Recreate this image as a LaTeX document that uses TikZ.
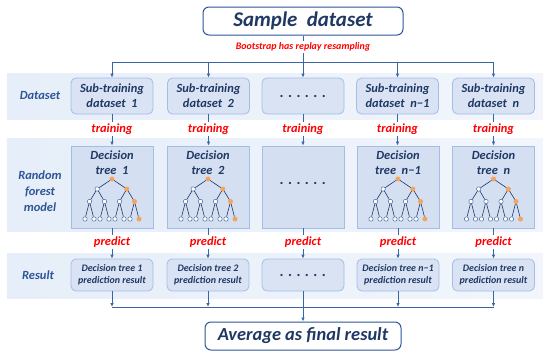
\documentclass[tikz,border=0pt]{standalone}
\usepackage{fontspec}
\setmainfont{Carlito}
\usetikzlibrary{arrows.meta}
\definecolor{navy}{HTML}{1F3864}
\definecolor{lblue}{HTML}{2E5597}
\definecolor{conncol}{HTML}{3A66A8}
\definecolor{bandL}{HTML}{E6EEF9}
\definecolor{bandM}{HTML}{87A6DA}
\definecolor{bandR}{HTML}{F2F6FC}
\definecolor{boxfill}{HTML}{D9E3F4}
\definecolor{boxline}{HTML}{A3BDE6}
\definecolor{tboxfill}{HTML}{D4DFF2}
\definecolor{torange}{HTML}{F7A35C}
\definecolor{tline}{HTML}{4A6FA5}
\definecolor{redlbl}{HTML}{FF0000}
\tikzset{
  band/.style={rectangle, draw=none, left color=bandL, middle color=bandM, right color=bandR, minimum width=536bp, inner sep=0},
  rbox/.style={rectangle, rounded corners=5bp, fill=boxfill, draw=boxline, line width=0.8bp, minimum width=82bp, inner sep=0, align=center, text=navy},
  tbox/.style={rectangle, fill=tboxfill, draw=boxline, line width=0.8bp, minimum width=82bp, minimum height=82bp, inner sep=0},
  titlebox/.style={rectangle, rounded corners=6bp, fill=white, draw=lblue, line width=1bp, inner sep=0, text=navy},
  bandlbl/.style={align=center, text=lblue, font=\fontsize{12.5}{16}\selectfont\bfseries\itshape},
  redlabel/.style={text=redlbl, inner sep=1bp, font=\fontsize{12.5}{14}\selectfont\bfseries\itshape},
  conn/.style={draw=conncol, line width=0.9bp},
  arr/.style={conn, -{Latex[length=4bp,width=3.5bp]}},
  tn/.style={circle, inner sep=0, minimum size=4.4bp, fill=white, draw=tline, line width=0.5bp},
  to/.style={tn, fill=torange, draw=torange},
  tedge/.style={draw=navy, line width=0.6bp},
  boxtxt/.style={align=center, text=navy, font=\fontsize{12.5}{15}\selectfont\bfseries\itshape},
  bigtxt/.style={font=\fontsize{12.5}{15}\selectfont\bfseries\itshape},
  smtxt/.style={font=\fontsize{10}{12}\selectfont\bfseries\itshape},
}
\newcommand\dtree[3]{%
  \begin{scope}[shift={(#2,#3)}]
    \node[to] (#1r) at (0,-8) {};
    \node[tn] (#1a) at (-14.8,2) {};
    \node[to] (#1b) at (14.8,2) {};
    \node[tn] (#1c) at (-22.5,14.5) {};
    \node[tn] (#1d) at (-7.5,14.5) {};
    \node[tn] (#1e) at (7.5,14.5) {};
    \node[to] (#1f) at (22.5,14.5) {};
    \node[tn] (#1l1) at (-27,32) {};
    \node[tn] (#1l2) at (-18,32) {};
    \node[tn] (#1l3) at (-12,32) {};
    \node[tn] (#1l4) at (-3,32) {};
    \node[tn] (#1l5) at (3,32) {};
    \node[tn] (#1l6) at (12,32) {};
    \node[tn] (#1l7) at (18,32) {};
    \node[to] (#1l8) at (27,32) {};
    \draw[tedge] (#1r) -- (#1a) (#1r) -- (#1b)
      (#1a) -- (#1c) (#1a) -- (#1d) (#1b) -- (#1e) (#1b) -- (#1f)
      (#1c) -- (#1l1) (#1c) -- (#1l2) (#1d) -- (#1l3) (#1d) -- (#1l4)
      (#1e) -- (#1l5) (#1e) -- (#1l6) (#1f) -- (#1l7) (#1f) -- (#1l8);
  \end{scope}}
\newcommand\dotrow{{\fontsize{15}{15}\selectfont .\hspace{4.5bp}.\hspace{4.5bp}.\hspace{4.5bp}.\hspace{4.5bp}.\hspace{4.5bp}.}}
\begin{document}
\begin{tikzpicture}[x=1bp,y=-1bp]
\useasboundingbox (0,0) rectangle (550,353);
% bands
\node[band, minimum height=46bp] (B1) at (275,96) {};
\node[band, minimum height=93bp] (B2) at (275,184.5) {};
\node[band, minimum height=45bp] (B3) at (275,275.5) {};
% band labels
\node[bandlbl] (L1) at (40,96) {Dataset};
\node[bandlbl] (L2) at (40,191) {Random\\forest\\model};
\node[bandlbl] (L3) at (38,275) {Result};
% title
\node[titlebox, minimum width=200bp, minimum height=28bp, font=\fontsize{21}{24}\selectfont\bfseries\itshape] (S) at (303,21) {Sample\ \ dataset};
\coordinate (J) at (303,62);
% row 1
\node[rbox, minimum height=36bp, bigtxt] (d1) at (112,96) {Sub-training\\dataset\ \ 1};
\node[rbox, minimum height=36bp, bigtxt] (d2) at (208.5,96) {Sub-training\\dataset\ \ 2};
\node[rbox, minimum height=36bp, bigtxt] (d3) at (303,96) {\dotrow};
\node[rbox, minimum height=36bp, bigtxt] (d4) at (397.5,96) {Sub-training\\dataset\ \ n−1};
\node[rbox, minimum height=36bp, bigtxt] (d5) at (493.5,96) {Sub-training\\dataset\ \ n};
% top connectors
\draw[conn] (S) -- (J);
\node[fill=white, inner sep=1.5bp, text=redlbl, font=\fontsize{10}{11}\selectfont\bfseries\itshape] (bs) at (303,47) {Bootstrap has replay resampling};
\draw[conn] (d1.north|-J) -- (d5.north|-J);
\foreach \i in {1,...,5} { \draw[arr] (d\i.north|-J) -- (d\i.north); }
% row 2
\node[tbox] (m1) at (112,187) {};
\node[tbox] (m2) at (208,187) {};
\node[tbox] (m3) at (303,187) {};
\node[tbox] (m4) at (398,187) {};
\node[tbox] (m5) at (493.5,187) {};
\node[boxtxt] (m1t) at (112,162.5) {Decision\\tree\ \ 1};
\node[boxtxt] (m2t) at (208,162.5) {Decision\\tree\ \ 2};
\node[boxtxt] (m3t) at (303,183) {\dotrow};
\node[boxtxt] (m4t) at (398,162.5) {Decision\\tree\ \ n−1};
\node[boxtxt] (m5t) at (493.5,162.5) {Decision\\tree\ \ n};
\dtree{ta}{112}{187}
\dtree{tb}{208}{187}
\dtree{tc}{398}{187}
\dtree{td}{493.5}{187}
% training labels
\foreach \i/\x in {1/112,2/208.5,3/303,4/397.5,5/493.5} {
  \node[redlabel] (t\i) at (\x,129) {training};
  \draw[conn] (d\i) -- (t\i);
  \draw[arr] (t\i) -- (m\i.north-|t\i);
}
% row 3
\node[rbox, minimum height=32bp, smtxt] (r1) at (112,275) {Decision tree 1\\prediction result};
\node[rbox, minimum height=32bp, smtxt] (r2) at (208,275) {Decision tree 2\\prediction result};
\node[rbox, minimum height=32bp, bigtxt] (r3) at (303,275) {\dotrow};
\node[rbox, minimum height=32bp, smtxt] (r4) at (398,275) {Decision tree n−1\\prediction result};
\node[rbox, minimum height=32bp, smtxt] (r5) at (493.5,275) {Decision tree n\\prediction result};
% predict labels
\foreach \i/\x in {1/112,2/208,3/303,4/398,5/493.5} {
  \node[redlabel] (p\i) at (\x,242) {predict};
  \draw[conn] (m\i.south-|p\i) -- (p\i);
  \draw[arr] (p\i) -- (r\i.north-|p\i);
}
% bottom
\node[titlebox, minimum width=196bp, minimum height=28bp, font=\fontsize{18.5}{22}\selectfont\bfseries\itshape] (F) at (303,336) {Average as final result};
\coordinate (K) at (303,307);
\draw[conn] (r1.south|-K) -- (r5.south|-K);
\foreach \i in {1,2,4,5} { \draw[arr] (r\i) -- (r\i.south|-K); }
\draw[arr] (r3) -- (F);
\end{tikzpicture}
\end{document}
